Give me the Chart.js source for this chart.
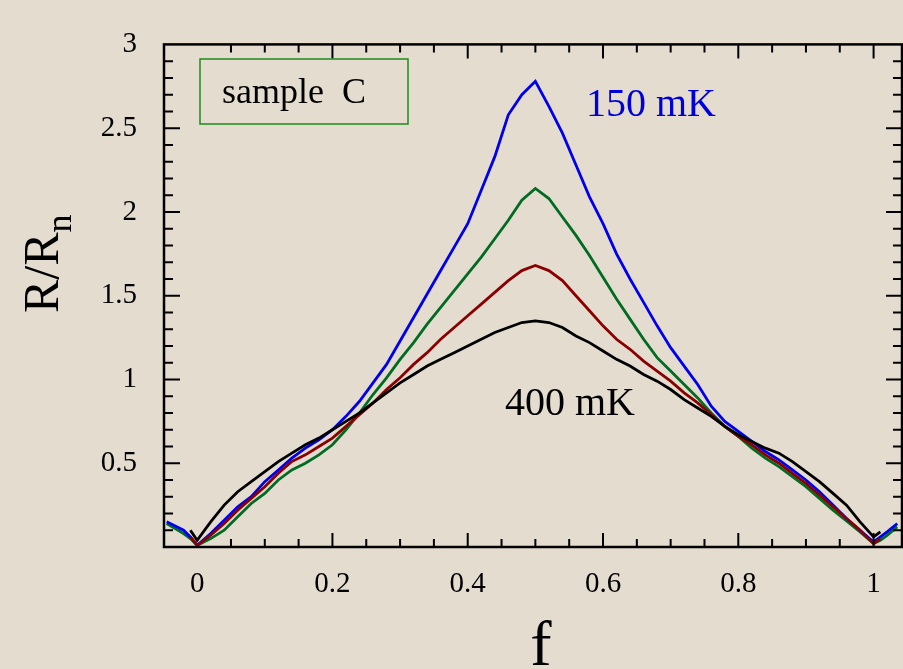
<!DOCTYPE html>
<html>
<head>
<meta charset="utf-8">
<script src="https://cdn.jsdelivr.net/npm/chart.js@4.4.1/dist/chart.umd.min.js"></script>
<style>
  html, body { margin: 0; padding: 0; background: #e4dccf; }
  #wrap { width: 903px; height: 669px; position: relative; }
</style>
</head>
<body>
<div id="wrap"><canvas id="chart" width="903" height="669"></canvas></div>
<script>
// flux f (shared x grid) and R/Rn for the four temperatures
const fluxF = [-0.045, -0.02, -0.01, 0,
  0.02, 0.04, 0.06, 0.08, 0.10, 0.12, 0.14, 0.16, 0.18, 0.20,
  0.22, 0.24, 0.26, 0.28, 0.30, 0.32, 0.34, 0.36, 0.38, 0.40,
  0.42, 0.44, 0.46, 0.48, 0.50, 0.52, 0.54, 0.56, 0.58, 0.60,
  0.62, 0.64, 0.66, 0.68, 0.70, 0.72, 0.74, 0.76, 0.78, 0.80,
  0.82, 0.84, 0.86, 0.88, 0.90, 0.92, 0.94, 0.96, 0.98, 1.00,
  1.01, 1.02, 1.035];

const r150 = [0.15, 0.10, 0.06, 0.01,
  0.08, 0.16, 0.24, 0.30, 0.39, 0.46, 0.53, 0.59, 0.64, 0.70,
  0.78, 0.87, 0.98, 1.09, 1.23, 1.37, 1.51, 1.65, 1.79, 1.93,
  2.13, 2.33, 2.58, 2.70, 2.78, 2.63, 2.47, 2.28, 2.09, 1.93,
  1.75, 1.60, 1.46, 1.32, 1.19, 1.08, 0.97, 0.84, 0.75, 0.69,
  0.63, 0.57, 0.52, 0.46, 0.40, 0.33, 0.25, 0.17, 0.10, 0.03,
  0.06, 0.09, 0.14];

const rGreen = [0.14, 0.08, 0.05, 0.01,
  0.05, 0.10, 0.18, 0.26, 0.32, 0.40, 0.46, 0.50, 0.55, 0.61,
  0.70, 0.80, 0.91, 1.01, 1.12, 1.22, 1.33, 1.43, 1.53, 1.63,
  1.73, 1.84, 1.95, 2.07, 2.14, 2.08, 1.97, 1.86, 1.74, 1.61,
  1.48, 1.36, 1.24, 1.13, 1.05, 0.97, 0.89, 0.80, 0.72, 0.66,
  0.59, 0.53, 0.48, 0.42, 0.36, 0.29, 0.22, 0.155, 0.09, 0.02,
  0.04, 0.07, 0.12];

const rRed = [null, null, 0.06, 0.01,
  0.07, 0.14, 0.22, 0.29, 0.36, 0.44, 0.51, 0.55, 0.60, 0.65,
  0.72, 0.79, 0.86, 0.94, 1.01, 1.09, 1.16, 1.24, 1.31, 1.38,
  1.45, 1.52, 1.59, 1.65, 1.68, 1.65, 1.59, 1.50, 1.41, 1.32,
  1.24, 1.18, 1.11, 1.05, 0.99, 0.92, 0.86, 0.79, 0.72, 0.66,
  0.61, 0.55, 0.50, 0.44, 0.38, 0.31, 0.24, 0.17, 0.10, 0.02,
  0.05, null, null];

const r400 = [null, null, 0.10, 0.04,
  0.15, 0.25, 0.33, 0.39, 0.45, 0.51, 0.56, 0.61, 0.65, 0.70,
  0.75, 0.80, 0.86, 0.92, 0.98, 1.03, 1.08, 1.12, 1.16, 1.20,
  1.24, 1.28, 1.31, 1.34, 1.35, 1.34, 1.31, 1.26, 1.22, 1.17,
  1.12, 1.08, 1.03, 0.99, 0.94, 0.88, 0.83, 0.78, 0.72, 0.67,
  0.63, 0.59, 0.56, 0.51, 0.45, 0.39, 0.32, 0.25, 0.15, 0.06,
  0.09, null, null];

const xTickVals = [0, 0.2, 0.4, 0.6, 0.8, 1];
const xTickLabels = ['0', '0.2', '0.4', '0.6', '0.8', '1'];
const yTickVals = [0.5, 1, 1.5, 2, 2.5, 3];
const yTickLabels = ['0.5', '1', '1.5', '2', '2.5', '3'];

const SERIF = '"Liberation Serif", "DejaVu Serif", serif';

function pts(ys) {
  return fluxF.map((f, i) => ({ x: f, y: ys[i] })).filter(p => p.y !== null);
}

function line(data, color, order) {
  return { data: pts(data), borderColor: color, borderWidth: 2.8, pointRadius: 0, tension: 0, order };
}

// axis frame with inward major/minor ticks on all four sides
const framePlugin = {
  id: 'frame',
  afterDatasetsDraw(chart) {
    const { ctx, chartArea: a, scales: { x, y } } = chart;
    ctx.save();
    ctx.strokeStyle = '#000';
    ctx.lineWidth = 2;
    ctx.beginPath();
    for (let i = 1; i <= 20; i++) {
      const px = x.getPixelForValue(i * 0.05);
      const len = i % 4 === 0 ? 14 : 8;
      ctx.moveTo(px, a.bottom); ctx.lineTo(px, a.bottom - len);
      ctx.moveTo(px, a.top); ctx.lineTo(px, a.top + len);
    }
    for (let i = 1; i < 30; i++) {
      const py = y.getPixelForValue(i * 0.1);
      const len = i % 5 === 0 ? 16 : 9;
      ctx.moveTo(a.left, py); ctx.lineTo(a.left + len, py);
      ctx.moveTo(a.right, py); ctx.lineTo(a.right - len, py);
    }
    ctx.stroke();
    ctx.lineWidth = 2.5;
    ctx.strokeRect(a.left, a.top, a.right - a.left, a.bottom - a.top);
    ctx.restore();
  }
};

// labels: sample box, temperatures, axis titles
const labelPlugin = {
  id: 'labels',
  afterDraw(chart) {
    const { ctx } = chart;
    ctx.save();
    ctx.strokeStyle = '#1c8c1c';
    ctx.lineWidth = 1.5;
    ctx.strokeRect(200, 59, 208, 65);
    ctx.textBaseline = 'alphabetic';
    ctx.textAlign = 'left';
    ctx.fillStyle = '#000';
    ctx.font = '36px ' + SERIF;
    ctx.fillText('sample  C', 222, 103);
    ctx.fillStyle = '#0000dd';
    ctx.font = '40px ' + SERIF;
    ctx.fillText('150 mK', 586, 116);
    ctx.fillStyle = '#000';
    ctx.fillText('400 mK', 505, 415);
    ctx.font = '64px ' + SERIF;
    ctx.textAlign = 'center';
    ctx.fillText('f', 541, 665);
    // R/Rn rotated
    ctx.translate(58, 313);
    ctx.rotate(-Math.PI / 2);
    ctx.textAlign = 'left';
    ctx.font = '50px ' + SERIF;
    ctx.fillText('R/R', 0, 0);
    const w = ctx.measureText('R/R').width;
    ctx.font = '36px ' + SERIF;
    ctx.fillText('n', w, 13);
    ctx.restore();
  }
};

new Chart(document.getElementById('chart').getContext('2d'), {
  type: 'line',
  data: {
    datasets: [
      line(r400, '#000000', 1),
      line(rRed, '#8a0000', 2),
      line(r150, '#0000ee', 3),
      line(rGreen, '#006b22', 4)
    ]
  },
  options: {
    responsive: false,
    animation: false,
    devicePixelRatio: 1,
    layout: { padding: { left: 0, right: 1, top: 21, bottom: 0 } },
    plugins: { legend: { display: false }, tooltip: { enabled: false } },
    scales: {
      x: {
        type: 'linear', min: -0.049, max: 1.042,
        grid: { display: false, drawTicks: false },
        border: { display: false },
        afterBuildTicks: s => { s.ticks = xTickVals.map(v => ({ value: v })); },
        afterFit: s => { s.height = 122; },
        ticks: {
          color: '#000', padding: 20, font: { family: SERIF, size: 29 },
          callback: v => xTickLabels[xTickVals.indexOf(v)]
        }
      },
      y: {
        type: 'linear', min: 0, max: 3,
        grid: { display: false, drawTicks: false },
        border: { display: false },
        afterBuildTicks: s => { s.ticks = yTickVals.map(v => ({ value: v })); },
        afterFit: s => { s.width = 164; },
        ticks: {
          color: '#000', padding: 27, font: { family: SERIF, size: 29 },
          callback: v => yTickLabels[yTickVals.indexOf(v)]
        }
      }
    }
  },
  plugins: [framePlugin, labelPlugin]
});
</script>
</body>
</html>
